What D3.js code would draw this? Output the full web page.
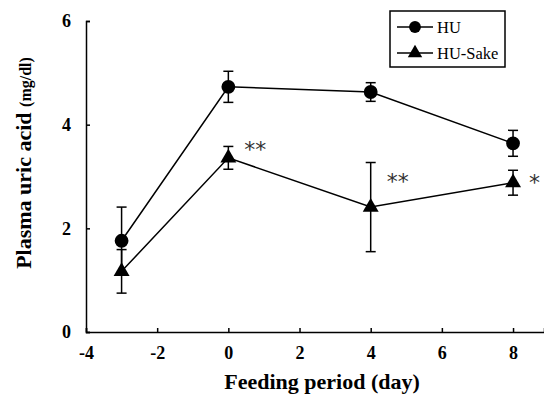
<!DOCTYPE html>
<html>
<head>
<meta charset="utf-8">
<script src="https://cdn.jsdelivr.net/npm/d3@7"></script>
<style>
  body { margin: 0; background: #fff; }
  svg .tick text { font: bold 18px "Liberation Serif", "Times New Roman", serif; }
</style>
</head>
<body>
<div id="chart"></div>
<script>
// data
const days = [-3, 0, 4, 8];
const huMean = [1.76, 4.73, 4.63, 3.64];
const huErr = [0.65, 0.30, 0.18, 0.25];
const sakeMean = [1.17, 3.36, 2.41, 2.88];
const sakeErr = [0.42, 0.22, 0.86, 0.24];
const sakeMarks = ["**", "**", "*"];   // for day 0, 4, 8
const xTicks = [-4, -2, 0, 2, 4, 6, 8];
const yTicks = [0, 2, 4, 6];

function main() {
    const width = 544, height = 396;
    const margin = {top: 21, right: 0, bottom: 64, left: 86};
    const serif = "'Liberation Serif', 'Times New Roman', serif";

    const svg = d3.select("#chart")
        .append("svg")
        .attr("width", width)
        .attr("height", height)
        .style("font-family", serif);

    const x = d3.scaleLinear()
        .domain([-4, 8.87])
        .range([margin.left, width - margin.right]);
    const y = d3.scaleLinear()
        .domain([0, 6])
        .range([height - margin.bottom, margin.top]);

    // axes with inside ticks
    const xAxis = svg.append("g")
        .attr("transform", `translate(0,${y(0)})`)
        .call(d3.axisBottom(x).tickValues(xTicks).tickSize(-4).tickPadding(14)
            .tickFormat(function(d) { return d < 0 ? "-" + Math.abs(d) : d; }));
    const yAxis = svg.append("g")
        .attr("transform", `translate(${x(-4)},0)`)
        .call(d3.axisLeft(y).tickValues(yTicks).tickSize(-4).tickPadding(15)
            .tickFormat(d3.format("d")));

    [xAxis, yAxis].forEach(function(g) {
        g.attr("font-family", null).attr("font-size", null);
        g.select(".domain").attr("stroke", "#000").attr("stroke-width", 1.5);
        g.selectAll(".tick line").attr("stroke", "#000").attr("stroke-width", 1.5);
        g.selectAll(".tick text")
            .attr("font-weight", "bold")
            .attr("fill", "#000");
    });

    // axis titles
    svg.append("text")
        .attr("x", 322)
        .attr("y", 389)
        .attr("text-anchor", "middle")
        .style("font-size", "22px")
        .style("font-weight", "bold")
        .text("Feeding period (day)");

    const yTitle = svg.append("text")
        .attr("transform", "translate(31,163) rotate(-90)")
        .attr("text-anchor", "middle")
        .style("font-weight", "bold");
    yTitle.append("tspan").style("font-size", "22px").text("Plasma uric acid ");
    yTitle.append("tspan").style("font-size", "16px").text("(mg/dl)");

    const line = d3.line()
        .x(function(d) { return x(d.day); })
        .y(function(d) { return y(d.v); });

    const series = [
        {mean: huMean, err: huErr, shape: d3.symbolCircle, size: 150},
        {mean: sakeMean, err: sakeErr, shape: d3.symbolTriangle, size: 110}
    ];

    series.forEach(function(s) {
        const pts = days.map(function(d, i) { return {day: d, v: s.mean[i], e: s.err[i]}; });

        svg.append("path")
            .datum(pts)
            .attr("fill", "none")
            .attr("stroke", "#000")
            .attr("stroke-width", 1.5)
            .attr("d", line);

        const bars = svg.append("g").selectAll("g")
            .data(pts)
            .join("g")
            .attr("stroke", "#000")
            .attr("stroke-width", 1.5);
        bars.append("line")
            .attr("x1", function(d) { return x(d.day); })
            .attr("x2", function(d) { return x(d.day); })
            .attr("y1", function(d) { return y(d.v - d.e); })
            .attr("y2", function(d) { return y(d.v + d.e); });
        [-1, 1].forEach(function(sign) {
            bars.append("line")
                .attr("x1", function(d) { return x(d.day) - 5; })
                .attr("x2", function(d) { return x(d.day) + 5; })
                .attr("y1", function(d) { return y(d.v + sign * d.e); })
                .attr("y2", function(d) { return y(d.v + sign * d.e); });
        });

        svg.append("g").selectAll("path")
            .data(pts)
            .join("path")
            .attr("transform", function(d) { return `translate(${x(d.day)},${y(d.v)})`; })
            .attr("d", d3.symbol().type(s.shape).size(s.size))
            .attr("fill", "#000");
    });

    // significance marks
    const markPos = [
        {day: 0, v: 3.38},
        {day: 4, v: 2.75},
        {day: 8, v: 2.74}
    ];
    svg.append("g").selectAll("text")
        .data(markPos)
        .join("text")
        .attr("x", function(d) { return x(d.day) + 16; })
        .attr("y", function(d) { return y(d.v); })
        .style("font-family", "'DejaVu Sans', sans-serif")
        .style("font-size", "22px")
        .attr("fill", "#333")
        .text(function(d, i) { return sakeMarks[i]; });

    // legend
    const legend = svg.append("g").attr("transform", "translate(390,11)");
    legend.append("rect")
        .attr("width", 115)
        .attr("height", 56)
        .attr("fill", "#fff")
        .attr("stroke", "#000")
        .attr("stroke-width", 1.5);
    const items = [
        {label: "HU", shape: d3.symbolCircle, size: 110},
        {label: "HU-Sake", shape: d3.symbolTriangle, size: 90}
    ];
    items.forEach(function(it, i) {
        const cy = 16 + i * 26;
        legend.append("line")
            .attr("x1", 7).attr("x2", 43)
            .attr("y1", cy).attr("y2", cy)
            .attr("stroke", "#000").attr("stroke-width", 1.5);
        legend.append("path")
            .attr("transform", `translate(25,${cy})`)
            .attr("d", d3.symbol().type(it.shape).size(it.size))
            .attr("fill", "#000");
        legend.append("text")
            .attr("x", 47)
            .attr("y", cy + 6)
            .style("font-size", "16.5px")
            .text(it.label);
    });
}

main();
</script>
</body>
</html>
